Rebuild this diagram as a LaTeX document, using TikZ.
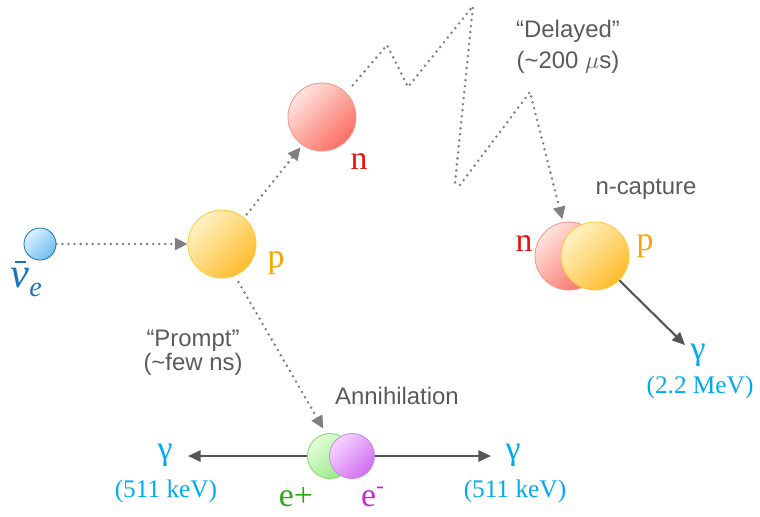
\documentclass[tikz,border=0pt]{standalone}
\usepackage{fontspec}
\setmainfont{Liberation Sans}
\newfontfamily\timesfont{Liberation Serif}
\usetikzlibrary{arrows.meta,positioning,calc}

\definecolor{dotgray}{RGB}{128,128,128}
\definecolor{raygray}{RGB}{85,85,85}
\definecolor{notegray}{RGB}{90,90,90}
\definecolor{nucol}{RGB}{25,115,190}
\definecolor{pcol}{RGB}{255,165,0}
\definecolor{ncol}{RGB}{230,20,20}
\definecolor{gammacol}{RGB}{0,170,240}
\definecolor{epcol}{RGB}{40,170,20}
\definecolor{emcol}{RGB}{200,40,220}

\begin{document}
\begin{tikzpicture}[x=0.025cm,y=-0.025cm,
    ball/.style={circle,inner sep=0pt,minimum size=1.7cm,line width=0.6pt},
    neutrino/.style={ball,minimum size=0.8cm,draw={rgb,255:red,30;green,120;blue,200},
      top color={rgb,255:red,220;green,242;blue,255},bottom color={rgb,255:red,110;green,190;blue,240},shading angle=45},
    proton/.style={ball,draw={rgb,255:red,250;green,205;blue,60},
      top color={rgb,255:red,255;green,242;blue,195},bottom color={rgb,255:red,255;green,188;blue,45},shading angle=45},
    neutron/.style={ball,draw={rgb,255:red,245;green,150;blue,140},
      top color={rgb,255:red,255;green,228;blue,222},bottom color={rgb,255:red,250;green,110;blue,100},shading angle=45},
    positron/.style={ball,minimum size=1.125cm,draw={rgb,255:red,125;green,220;blue,95},
      top color={rgb,255:red,228;green,255;blue,218},bottom color={rgb,255:red,150;green,230;blue,130},shading angle=45},
    electron/.style={ball,minimum size=1.125cm,draw={rgb,255:red,205;green,135;blue,230},
      top color={rgb,255:red,246;green,212;blue,255},bottom color={rgb,255:red,208;green,110;blue,240},shading angle=45},
    lab/.style={inner sep=1pt,font=\timesfont\fontsize{24}{26}\selectfont},
    energy/.style={inner sep=1pt,text=gammacol,font=\timesfont\fontsize{18}{20}\selectfont},
    note/.style={inner sep=1pt,text=notegray,align=center,font=\fontsize{17}{17}\selectfont},
    dotarrow/.style={draw=dotgray,line width=2pt,line cap=round,dash pattern=on 0pt off 4.3pt,
      -{Triangle[length=9pt,width=8.5pt,fill=dotgray]}},
    ray/.style={draw=raygray,line width=1.5pt,-{Triangle[length=9pt,width=8pt]}}]
  \useasboundingbox (0,0) rectangle (760,516);
  % Particles
  \node[neutrino] (nu) at (40,244) {};
  \node[proton] (p1) at (222,244) {};
  \node[neutron] (n1) at (322,117) {};
  % Capture pair
  \node[neutron] (nc) at (569,256) {};
  \node[proton] (pc) at (595,256) {};
  % Annihilation pair
  \node[positron] (ep) at (330,456) {};
  \node[electron] (em) at (352,456) {};
  % Particle labels
  \node[lab,text=nucol,anchor=base west] (nulab) at (9,287)
    {{\itshape\fontsize{30}{30}\selectfont\rlap{\hspace{3pt}\raisebox{17pt}{\rule{8pt}{1.3pt}}}ν}%
     \raisebox{-7pt}{\itshape\fontsize{20}{20}\selectfont e}};
  \node[lab,text=pcol] (p1lab) at (276,263) {p};
  \node[lab,text=ncol] (n1lab) at (359,162) {n};
  \node[lab,text=ncol] (nclab) at (524,244) {n};
  \node[lab,text=pcol] (pclab) at (645,246) {p};
  \node[lab,text=epcol] (eplab) at (296,497) {e+};
  \node[lab,text=emcol] (emlab) at (373,497) {e\textsuperscript{-}};
  % Gammas
  \node[lab,text=gammacol] (g1) at (165,455) {γ};
  \node[energy] (e1) at (166,491) {(511 keV)};
  \node[lab,text=gammacol] (g2) at (513,455) {γ};
  \node[energy] (e2) at (515,491) {(511 keV)};
  \node[lab,text=gammacol] (g3) at (698,355) {γ};
  \node[energy] (e3) at (700,387) {(2.2 MeV)};
  % Notes
  \node[note] (prompt) at (193,353) {“Prompt”\\(\textasciitilde few ns)};
  \node[note] (delay) at (568,47) {“Delayed”\\[5pt](\textasciitilde 200 $\mu$s)};
  \node[note] (ann) at (397,396) {Annihilation};
  \node[note] (capt) at (646,189) {n-capture};
  % Dotted tracks
  \draw[dotarrow] (nu) -- (p1);
  \draw[dotarrow,shorten <=3pt,shorten >=2pt] (p1.50) -- (n1.-125);
  \draw[dotarrow,shorten <=5pt,shorten >=4pt] (p1.-68) -- (ep.100);
  \draw[dotarrow,shorten <=7pt,shorten >=2pt] (n1.45) -- (387,45) -- (408,87) -- (473,6)
    -- (455,183) -- (460,185) -- (530,92) -- (nc.100);
  % Outgoing gammas
  \coordinate (g1tip) at (188,456);
  \coordinate (g2tip) at (491,456);
  \coordinate (g3tip) at (685,345);
  \draw[ray] (ep.west) -- (g1tip);
  \draw[ray] (em.east) -- (g2tip);
  \draw[ray] (pc.-45) -- (g3tip);
\end{tikzpicture}
\end{document}
